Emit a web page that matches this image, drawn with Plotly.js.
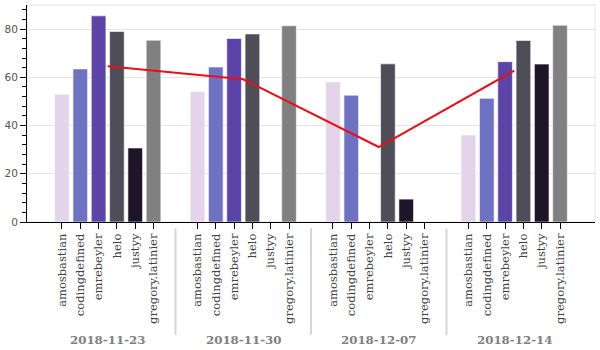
<!DOCTYPE html>
<html>
<head>
<meta charset="utf-8">
<script src="https://cdn.plot.ly/plotly-3.0.1.min.js"></script>
<style>html,body{margin:0;padding:0;background:#fff;}#chart{width:600px;height:350px;}</style>
</head>
<body>
<div id="chart"></div>
<script>
// ---- data ----
var dates = ["2018-11-23", "2018-11-30", "2018-12-07", "2018-12-14"];
var users = ["amosbastian", "codingdefined", "emrebeyler", "helo", "justyy", "gregory.latinier"];
var amosbastian      = [53.0, 54.1, 58.1, 36.1];
var codingdefined    = [63.5, 64.3, 52.6, 51.3];
var emrebeyler       = [85.5, 76.1, null, 66.5];
var helo             = [79.0, 78.0, 65.6, 75.3];
var justyy           = [30.7, null, 9.5, 65.5];
var gregoryLatinier  = [75.4, 81.4, null, 81.6];
var average          = [64.6, 59.2, 31.1, 62.8];
var yTicks = [0, 20, 40, 60, 80];

// ---- style ----
var seriesValues = [amosbastian, codingdefined, emrebeyler, helo, justyy, gregoryLatinier];
var colors = ["#e4d4eb", "#6d72c3", "#5b43a8", "#4f4d58", "#1f1529", "#808080"];
var pad = 1.4;
var n = users.length;
var G = dates.length;
function pos(g, u) { return g * (n + pad) + u + 0.5; }
var total = G * n + (G - 1) * pad;

var traces = [];
for (var u = 0; u < n; u++) {
  var xs = [], ys = [];
  for (var g = 0; g < G; g++) {
    if (seriesValues[u][g] !== null) { xs.push(pos(g, u)); ys.push(seriesValues[u][g]); }
  }
  traces.push({
    type: "bar", name: users[u], x: xs, y: ys, width: 0.8,
    marker: {color: colors[u], line: {color: "rgba(255,255,255,0.6)", width: 1}},
    showlegend: false
  });
}
var lineX = dates.map(function (d, g) { return g * (n + pad) + n / 2; });
traces.push({
  type: "scatter", mode: "lines", x: lineX, y: average,
  line: {color: "#e8101a", width: 2}, showlegend: false
});

var tickvals = [], ticktext = [];
for (var g = 0; g < G; g++) for (var u = 0; u < n; u++) { tickvals.push(pos(g, u)); ticktext.push(users[u]); }

var annotations = dates.map(function (d, g) {
  return {text: "<b>" + d + "</b>", x: g * (n + pad) + n / 2, xref: "x", y: -0.545, yref: "paper",
    xanchor: "center", yanchor: "middle", showarrow: false,
    font: {family: "DejaVu Serif", size: 11.8, color: "#808080"}};
});
var shapes = [{type: "rect", xref: "paper", yref: "paper", x0: 0, x1: 1, y0: 0, y1: 1,
  line: {color: "#e5e5e5", width: 1}, layer: "below"}];
for (var g = 1; g < G; g++) {
  var sx = g * (n + pad) - pad / 2;
  shapes.push({type: "line", xref: "x", yref: "paper", x0: sx, x1: sx, y0: -0.03, y1: -0.52,
    line: {color: "#d6d6d6", width: 2}});
}

var layout = {
  width: 600, height: 350,
  margin: {l: 27, r: 5, t: 5, b: 128},
  paper_bgcolor: "#fff", plot_bgcolor: "#fff",
  barmode: "overlay",
  xaxis: {
    range: [-total * 0.05, total * 1.05], tickvals: tickvals, ticktext: ticktext,
    tickangle: -90, ticks: "outside", ticklen: 6, tickcolor: "#000",
    showline: true, linecolor: "#000", linewidth: 1, showgrid: false, zeroline: false,
    tickfont: {family: "DejaVu Serif", size: 11.5, color: "#444"}
  },
  yaxis: {
    range: [0, 90], tickvals: yTicks, ticks: "outside", ticklen: 6, tickcolor: "#000",
    showline: true, linecolor: "#000", linewidth: 1, showgrid: true, gridcolor: "#e5e5e5",
    zeroline: false,
    minor: {dtick: 4, ticks: "outside", ticklen: 4, tickcolor: "#000", showgrid: false},
    tickfont: {family: "DejaVu Sans", size: 10.5, color: "#555"}
  },
  annotations: annotations, shapes: shapes
};
Plotly.newPlot("chart", traces, layout, {staticPlot: true, displayModeBar: false});
</script>
</body>
</html>
